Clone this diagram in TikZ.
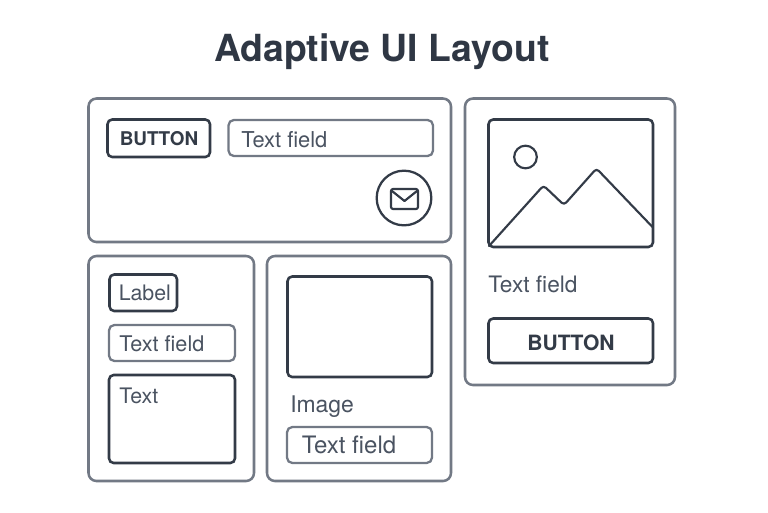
\documentclass[tikz,border=0pt]{standalone}
\usepackage{fontspec}
\setmainfont{TeX Gyre Heros}
\usetikzlibrary{calc}
\definecolor{panelc}{HTML}{727985}
\definecolor{darkc}{HTML}{333B47}
\definecolor{textc}{HTML}{4A5361}
\definecolor{titlec}{HTML}{2F3744}
\tikzset{
  x=0.75pt,y=-0.75pt,
  rbox/.style={draw,rounded corners=#1,inner sep=0pt,fill=white},
  panel/.style={rbox=6pt,draw=panelc,line width=1.9pt},
  field/.style={rbox=4pt,draw=panelc,line width=1.7pt},
  solidbox/.style={rbox=3.5pt,draw=darkc,line width=1.9pt},
  lbl/.style={anchor=base west,inner sep=0pt,text=textc,font=\fontsize{#1}{18}\selectfont},
  lbl/.default=16,
  btnlbl/.style={anchor=base,inner sep=0pt,text=darkc,font=\fontsize{14.2}{18}\selectfont\bfseries},
  icon/.style={draw=darkc,line width=1.6pt,line join=round,line cap=round}
}
\newcommand{\ubox}[6]{\node[#1,minimum width=#4*0.75pt-#2*0.75pt,minimum height=#5*0.75pt-#3*0.75pt] (#6) at ({(#2+#4)/2},{(#3+#5)/2}) {};}
\begin{document}
\begin{tikzpicture}
\useasboundingbox[fill=white] (0,0) rectangle (768,512);
\node[anchor=base,inner sep=0pt,text=titlec,font=\fontsize{28}{30}\selectfont\bfseries] (title) at (382,61) {Adaptive UI Layout};

\ubox{panel}{88.5}{98.5}{451}{242}{pa}
\ubox{panel}{465}{98.5}{675}{385}{pb}
\ubox{panel}{88.5}{256}{254}{481}{pc}
\ubox{panel}{267}{256}{451}{481}{pd}

\ubox{solidbox}{107.5}{119.5}{210}{157}{btna}
\node[btnlbl] (btnat) at (159,145) {BUTTON};
\ubox{field}{228.5}{120}{433}{156}{fa}
\node[lbl=16.4] (fat) at (241,147) {Text field};
\node[draw=darkc,line width=1.7pt,circle,minimum size=41pt,inner sep=0pt] (mail) at (404,198) {};
\draw[icon,rounded corners=1.5pt] (391,189) rectangle (418,209);
\draw[icon] (392,191) -- (404.5,201) -- (417,191);

\ubox{solidbox}{488.5}{119.5}{653}{247}{imgb}
\node[draw=darkc,line width=1.6pt,circle,minimum size=17pt,inner sep=0pt] (sun) at (525.5,157) {};
\draw[icon,rounded corners=2.5pt] (489,246) -- (543.5,185.5) -- (564,205) -- (596.5,168.5) -- (652.5,227);
\node[lbl=17] (fbt) at (488,292) {Text field};
\ubox{solidbox}{488.5}{318.5}{653}{363}{btnb}
\node[btnlbl,font=\fontsize{15.8}{18}\selectfont\bfseries] (btnbt) at (571,350) {BUTTON};

\ubox{solidbox}{109.5}{274.5}{177}{311}{lab}
\node[lbl] (labt) at (118.5,300) {Label};
\ubox{field}{109}{325}{235}{361}{fc}
\node[lbl=16.2] (fct) at (119,351) {Text field};
\ubox{solidbox}{109}{375}{235}{463}{tb}
\node[lbl] (tbt) at (119,403) {Text};

\ubox{solidbox}{287.5}{276.5}{432}{377}{imgd}
\node[lbl=17.2] (imt) at (290,412) {Image};
\ubox{field}{287}{427}{432}{463}{fd}
\node[lbl=18] (fdt) at (301.5,453.5) {Text field};
\end{tikzpicture}
\end{document}
